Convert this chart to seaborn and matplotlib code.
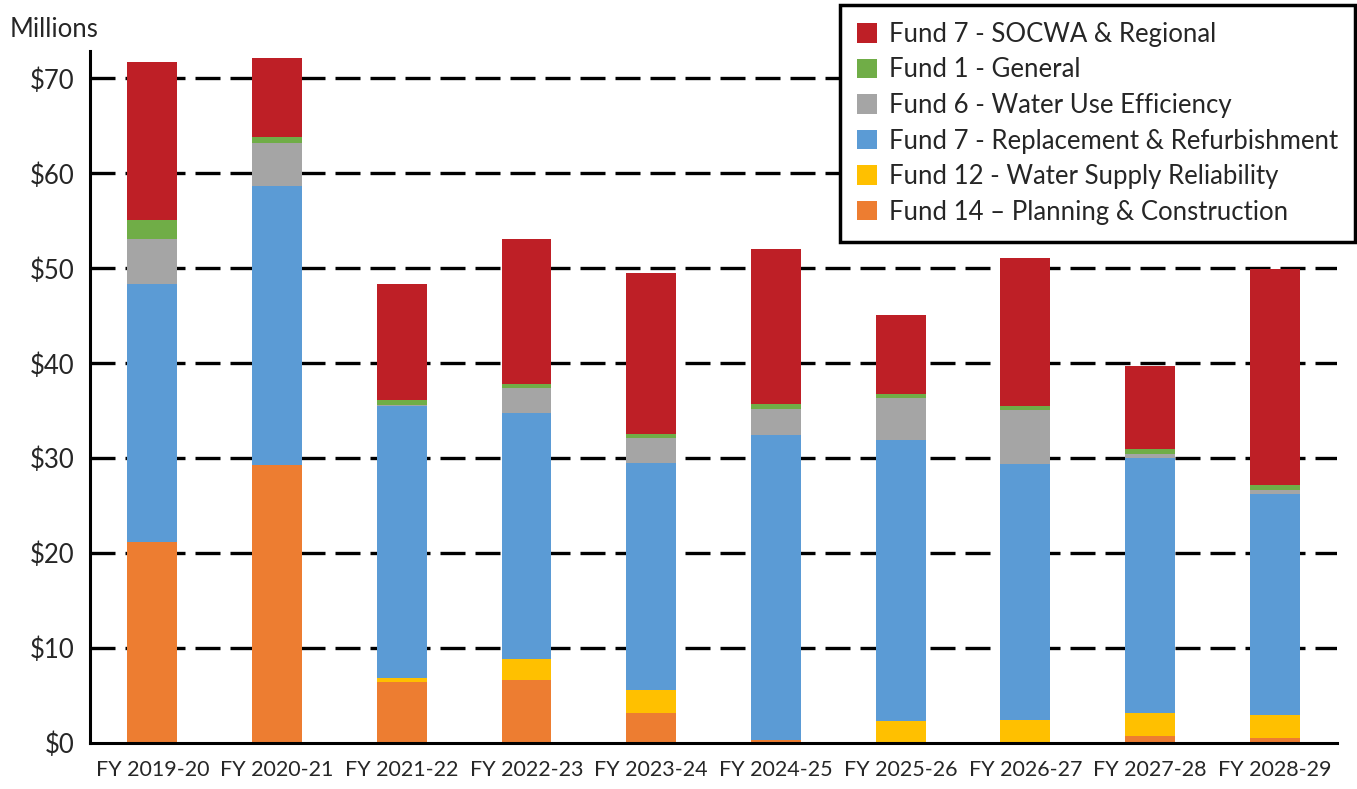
import matplotlib
matplotlib.use("Agg")
import matplotlib.pyplot as plt
import seaborn as sns
import numpy as np
import pandas as pd
from matplotlib.patches import Patch

years = ["FY 2019-20", "FY 2020-21", "FY 2021-22", "FY 2022-23", "FY 2023-24",
         "FY 2024-25", "FY 2025-26", "FY 2026-27", "FY 2027-28", "FY 2028-29"]
fund14_planning = [21.2, 29.3, 6.4, 6.6, 3.2, 0.3, 0.0, 0.0, 0.7, 0.5]
fund12_supply = [0.0, 0.0, 0.5, 2.25, 2.4, 0.0, 2.3, 2.4, 2.5, 2.5]
fund7_rr = [27.1, 29.4, 28.6, 25.9, 23.9, 32.1, 29.65, 26.95, 26.8, 23.2]
fund6_wue = [4.8, 4.5, 0.1, 2.6, 2.6, 2.8, 4.4, 5.75, 0.4, 0.5]
fund1_general = [2.0, 0.6, 0.5, 0.45, 0.45, 0.55, 0.45, 0.45, 0.55, 0.5]
fund7_socwa = [16.6, 8.4, 12.2, 15.25, 17.0, 16.25, 8.3, 15.55, 8.75, 22.75]

y_ticks = [0, 10, 20, 30, 40, 50, 60, 70]
y_tick_labels = ["$0", "$10", "$20", "$30", "$40", "$50", "$60", "$70"]

series_names = ["Fund 14 \u2013 Planning & Construction",
                "Fund 12 - Water Supply Reliability",
                "Fund 7 - Replacement & Refurbishment",
                "Fund 6 - Water Use Efficiency",
                "Fund 1 - General",
                "Fund 7 - SOCWA & Regional"]
series_vals = [fund14_planning, fund12_supply, fund7_rr, fund6_wue, fund1_general, fund7_socwa]
colors = ["#ED7D31", "#FFC000", "#5B9BD5", "#A5A5A5", "#70AD47", "#BE1F26"]

sns.set_theme(style="white")
plt.rcParams["font.family"] = ["Lato", "DejaVu Sans"]

fig = plt.figure(figsize=(13.57, 7.89), dpi=100)
ax = fig.add_axes([0.0663, 0.0583, 0.9190, 0.8771])

cum = np.cumsum(np.array(series_vals), axis=0)
df = pd.DataFrame({"year": years})
for i in range(len(series_vals) - 1, -1, -1):
    df["v"] = cum[i]
    sns.barplot(data=df, x="year", y="v", color=colors[i], width=0.4,
                saturation=1, ax=ax, edgecolor="none", linewidth=0, zorder=3)

ax.set_xlim(-0.5, len(years) - 0.5)
ax.set_ylim(0, 72.9)
ax.set_xlabel("")
ax.set_ylabel("")

ax.set_yticks(y_ticks)
ax.set_yticklabels(y_tick_labels, fontsize=18.5)
ax.tick_params(axis="y", direction="inout", length=14, width=2.2, color="black", pad=4)

ax.set_xticks(np.arange(-0.5, len(years), 1.0))
ax.set_xticklabels([])
ax.set_xticks(np.arange(len(years)), minor=True)
ax.set_xticklabels(years, minor=True, fontsize=15.5)
ax.tick_params(axis="x", which="major", direction="out", length=7, width=2.2, color="black")
ax.tick_params(axis="x", which="minor", length=0, pad=12)

for yv in y_ticks[1:]:
    ax.axhline(yv, color="black", lw=2.4, linestyle=(0, (7.5, 3)), zorder=1)

for s in ["top", "right"]:
    ax.spines[s].set_visible(False)
for s in ["left", "bottom"]:
    ax.spines[s].set_color("black")
    ax.spines[s].set_linewidth(2.2)
    ax.spines[s].set_zorder(5)

handles = [Patch(facecolor=colors[i], edgecolor="none", label=series_names[i])
           for i in range(len(series_names) - 1, -1, -1)]
leg = ax.legend(handles=handles, loc="upper right", bbox_to_anchor=(1.0144, 1.0665),
                fontsize=18.5, frameon=True, fancybox=False, framealpha=1,
                handlelength=0.8, handleheight=0.8, handletextpad=0.45,
                labelspacing=0.41, borderpad=0.66, borderaxespad=0)
leg.get_frame().set_edgecolor("black")
leg.get_frame().set_linewidth(2.5)
leg.set_zorder(10)

fig.text(0.007, 0.962, "Millions", fontsize=18.5, ha="left", va="center")

fig.savefig("out.png", dpi=100)
